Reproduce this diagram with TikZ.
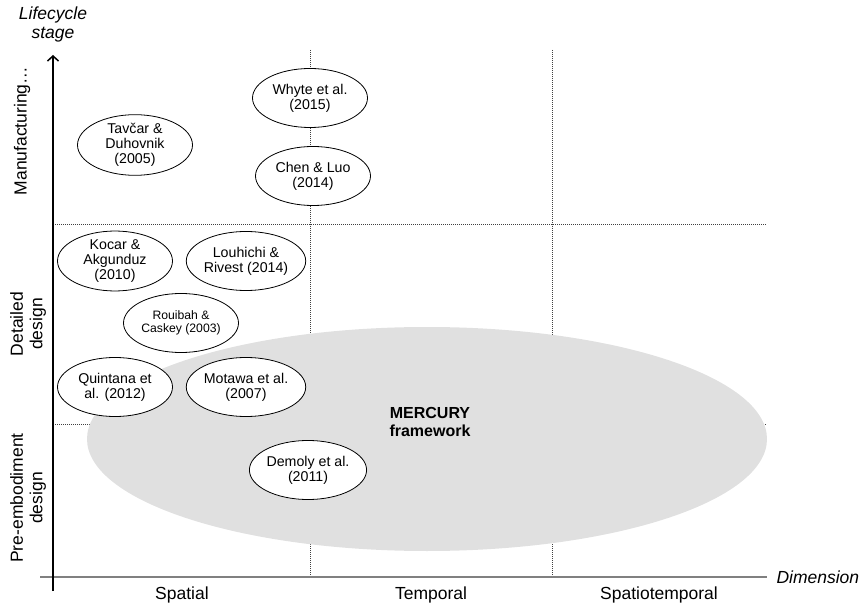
\documentclass[tikz,border=0pt]{standalone}
\usepackage{fontspec}
\setmainfont{Liberation Sans}
\usetikzlibrary{shapes.geometric}
\usetikzlibrary{arrows.meta}
\definecolor{mercurygray}{RGB}{224,224,224}
\tikzset{
    paper/.style={ellipse,draw=black,fill=white,line width=0.8pt,inner sep=0pt,
        minimum width=115pt,minimum height=59pt,align=center,
        font=\fontsize{14.2}{14.8}\selectfont},
    grid/.style={black!75,line width=0.8pt,dash pattern=on 1pt off 1pt},
    axislabel/.style={font=\fontsize{17.5}{19.5}\selectfont,align=center},
}

\begin{document}
\begin{tikzpicture}[x=1pt,y=-1pt]
    \useasboundingbox (0,0) rectangle (859,609);

    \coordinate (hs) at (53,224);   \coordinate (he) at (767,224);
    \coordinate (ls) at (53,424);   \coordinate (le) at (767,424);
    \coordinate (v1s) at (310,50);  \coordinate (v1e) at (310,577);
    \coordinate (v2s) at (552,50);  \coordinate (v2e) at (552,577);
    \draw[grid] (hs)--(he);
    \draw[grid] (ls)--(le);
    \draw[grid] (v1s)--(v1e);
    \draw[grid] (v2s)--(v2e);

    \fill[mercurygray] (427,439) ellipse [x radius=340, y radius=112];
    \node[font=\fontsize{16}{18}\selectfont\bfseries,align=center] (merc) at (430,422) {MERCURY\\framework};

    \node[paper] (whyte) at (310,98) {Whyte et al.\\(2015)};
    \node[paper] (chen) at (313,176) {Chen \& Luo\\(2014)};
    \node[paper] (tavcar) at (135,145) {Tavčar \&\\Duhovnik\\(2005)};
    \node[paper] (kocar) at (115,261) {Kocar \&\\Akgunduz\\(2010)};
    \node[paper] (louhichi) at (246,261) {Louhichi \&\\Rivest (2014)};
    \node[paper,font=\fontsize{12.2}{13.3}\selectfont] (rouibah) at (181,323) {Rouibah \&\\Caskey (2003)};
    \node[paper] (quintana) at (115,387) {Quintana et\\al. (2012)};
    \node[paper] (motawa) at (246,387) {Motawa et al.\\(2007)};
    \node[paper] (demoly) at (308,470) {Demoly et al.\\(2011)};

    \coordinate (xs) at (40,577);  \coordinate (xe) at (767,577);
    \coordinate (ys) at (53,591);  \coordinate (ye) at (53,55);
    \draw[gray,line width=2pt] (xs)--(xe);
    \draw[line width=1.3pt,-{Straight Barb[length=5pt,width=11pt,line width=1.5pt]}] (ys)--(ye);

    \node[axislabel,font=\fontsize{17.5}{19}\selectfont\itshape] (ylab) at (53,24) {Lifecycle\\stage};
    \node[axislabel,anchor=west,font=\fontsize{17.5}{19}\selectfont\itshape] (xlab) at (773,577) {Dimension};

    \node[axislabel,rotate=90] (manu) at (22,131) {Manufacturing…};
    \node[axislabel,rotate=90] (detail) at (28,324) {Detailed\\design};
    \node[axislabel,rotate=90] (pre) at (28,498) {Pre-embodiment\\design};

    \node[axislabel] (spatial) at (182,595) {Spatial};
    \node[axislabel] (temporal) at (431,595) {Temporal};
    \node[axislabel] (spatiotemp) at (659,595) {Spatiotemporal};
\end{tikzpicture}
\end{document}
